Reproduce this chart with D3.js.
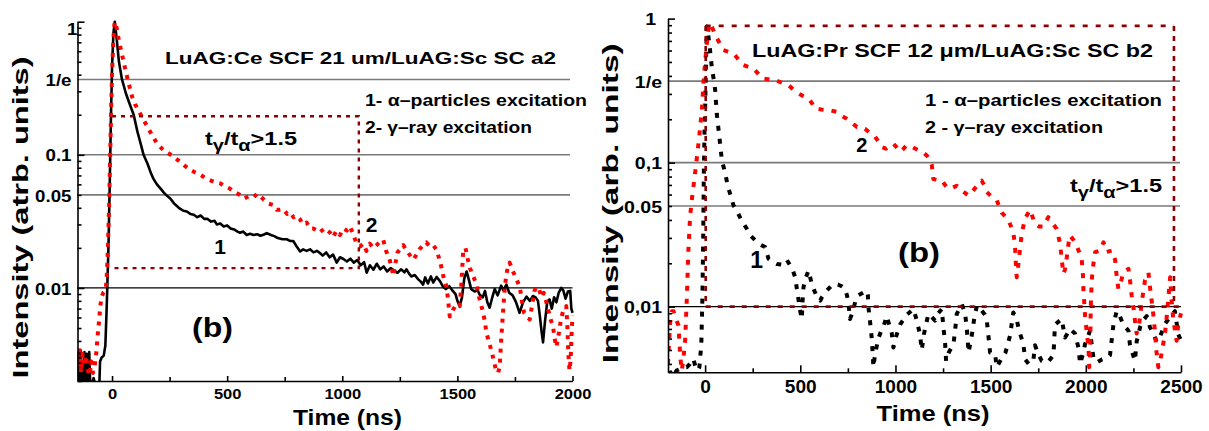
<!DOCTYPE html>
<html>
<head>
<meta charset="utf-8">
<script src="https://cdn.jsdelivr.net/npm/d3@7"></script>
<style>
  body { margin: 0; background: #fff; }
  svg { display: block; font-family: "Liberation Sans", Arial, Helvetica, sans-serif; font-weight: bold; }
</style>
</head>
<body>
<svg id="chart" width="1209" height="431"></svg>
<script>
// ---------- LuAG:Ce SCF / LuAG:Sc SC (panel a2) : [time ns, normalised intensity] ----------
const ceAlpha = [
  [-150,0.0019],[-146,0.0033],[-141,0.0018],[-136,0.0034],[-131,0.0019],[-125,0.0019],[-120,0.0033],
  [-115,0.0018],[-110,0.0032],[-104,0.0019],[-99,0.0033],[-94,0.0017],[-88,0.0019],[-80,0.0021],
  [-70,0.0018],[-62,0.0017],[-55,0.0019],[-52,0.0028],[-45,0.0030],[-36,0.0031],[-29,0.0037],
  [-24,0.0065],[-20,0.0110],[-15,0.022],[-10,0.06],[-5,0.18],[0,0.45],[6,0.82],[12,1.0],
  [20,0.75],[30,0.5],[43,0.37],[60,0.29],[75,0.245],[94,0.2],[110,0.15],[125,0.12],[137,0.1],
  [155,0.085],[170,0.072],[180,0.066],[195,0.060],[210,0.056],[225,0.052],[240,0.049],[253,0.047],
  [270,0.043],[290,0.040],[310,0.038],[325,0.0375],[340,0.036],[355,0.0355],[370,0.034],[385,0.035],
  [400,0.033],[415,0.033],[430,0.0315],[445,0.032],[455,0.030],[470,0.0305],[485,0.029],[500,0.0295],
  [515,0.028],[530,0.0275],[545,0.0265],[556,0.026],[570,0.0265],[585,0.025],[600,0.0255],[614,0.025],
  [630,0.0253],[645,0.0247],[660,0.0252],[672,0.0258],[690,0.025],[705,0.0245],[720,0.0237],[740,0.0232],
  [759,0.0232],[775,0.0225],[787,0.0225],[802,0.0205],[817,0.0188],[830,0.0195],[845,0.019],[860,0.0195],
  [875,0.0185],[890,0.019],[903,0.0183],[915,0.0175],[930,0.0185],[945,0.017],[960,0.0178],[976,0.0155],
  [990,0.017],[1005,0.0165],[1020,0.0158],[1035,0.0166],[1050,0.0155],[1065,0.0162],[1080,0.0148],
  [1095,0.0156],[1106,0.013],[1120,0.0148],[1135,0.0137],[1150,0.0152],[1165,0.0138],[1180,0.0145],
  [1195,0.0133],[1210,0.0141],[1225,0.0135],[1240,0.0130],[1255,0.0138],[1270,0.0131],[1279,0.0138],
  [1290,0.0128],[1300,0.0122],[1315,0.0125],[1330,0.0116],[1340,0.0112],[1351,0.0106],[1360,0.012],
  [1372,0.0108],[1385,0.0122],[1395,0.011],[1410,0.0121],[1425,0.0112],[1438,0.0102],[1450,0.0098],
  [1465,0.0103],[1480,0.0095],[1492,0.0090],[1500,0.0080],[1510,0.0073],[1520,0.0085],[1530,0.0118],
  [1540,0.0133],[1550,0.0115],[1560,0.0098],[1575,0.0094],[1588,0.0096],[1597,0.0089],[1610,0.0085],
  [1620,0.0095],[1630,0.0078],[1640,0.0071],[1650,0.0083],[1662,0.0098],[1675,0.0088],[1690,0.0104],
  [1700,0.0096],[1713,0.0106],[1725,0.0092],[1740,0.0088],[1755,0.0078],[1770,0.0065],[1785,0.0078],
  [1800,0.0086],[1815,0.0080],[1828,0.0087],[1840,0.0085],[1850,0.0080],[1858,0.0062],[1865,0.0048],
  [1872,0.0039],[1880,0.0055],[1890,0.0078],[1900,0.0082],[1910,0.0070],[1920,0.0085],[1930,0.0078],
  [1940,0.0092],[1951,0.0100],[1960,0.0096],[1970,0.0083],[1980,0.0094],[1990,0.0095],[1995,0.0070],
  [2000,0.0065]
];
const ceGamma = [
  [-150,0.0032],[-145,0.0025],[-140,0.0034],[-135,0.0023],[-128,0.0032],[-120,0.0026],[-113,0.0031],
  [-105,0.0024],[-98,0.0022],[-90,0.0028],[-83,0.0023],[-75,0.0026],[-68,0.0033],[-62,0.0045],
  [-57,0.0055],[-52,0.007],[-46,0.0085],[-38,0.0092],[-30,0.0095],[-24,0.011],[-18,0.02],[-13,0.04],
  [-8,0.1],[-4,0.22],[0,0.4],[5,0.7],[10,0.95],[14,1.0],
  [20,0.9],[30,0.72],[45,0.55],[60,0.42],[75,0.33],[87,0.274],[100,0.24],[115,0.215],[137,0.183],
  [160,0.155],[180,0.135],[195,0.122],[215,0.112],[240,0.104],[267,0.097],[290,0.09],[315,0.083],
  [340,0.077],[360,0.074],[383,0.071],[405,0.067],[430,0.064],[450,0.062],[470,0.061],[490,0.058],
  [510,0.056],[530,0.053],[556,0.050],[575,0.047],[595,0.049],[615,0.048],[630,0.051],[643,0.049],
  [660,0.046],[680,0.043],[700,0.042],[715,0.0387],[730,0.0387],[745,0.039],[760,0.036],[775,0.037],
  [788,0.034],[800,0.035],[815,0.033],[830,0.030],[845,0.031],[860,0.028],[874,0.028],[890,0.027],
  [905,0.028],[920,0.026],[935,0.027],[947,0.026],[960,0.024],[975,0.027],[990,0.025],[1005,0.028],
  [1020,0.027],[1033,0.029],[1045,0.026],[1060,0.022],[1077,0.0205],[1090,0.0215],[1105,0.019],
  [1120,0.0215],[1135,0.0199],[1150,0.021],[1165,0.0225],[1178,0.023],[1190,0.019],[1205,0.0165],
  [1215,0.014],[1222,0.0123],[1230,0.015],[1240,0.0185],[1250,0.0194],[1265,0.021],[1280,0.019],
  [1295,0.0175],[1308,0.0163],[1320,0.0175],[1335,0.0195],[1351,0.021],[1365,0.022],[1380,0.0205],
  [1395,0.021],[1409,0.0194],[1420,0.0168],[1430,0.0145],[1440,0.012],[1453,0.0102],[1460,0.008],
  [1467,0.0061],[1480,0.0068],[1495,0.0075],[1510,0.0073],[1518,0.011],[1525,0.0188],[1535,0.020],
  [1545,0.0165],[1555,0.014],[1568,0.0123],[1580,0.011],[1590,0.0092],[1600,0.0078],[1612,0.0065],
  [1620,0.0055],[1626,0.0046],[1640,0.0038],[1655,0.003],[1668,0.0024],[1677,0.0023],[1684,0.0026],
  [1690,0.004],[1698,0.0065],[1705,0.0095],[1712,0.0125],[1720,0.0145],[1727,0.0155],[1740,0.0135],
  [1755,0.0118],[1771,0.0102],[1780,0.008],[1790,0.0065],[1800,0.0062],[1814,0.0058],[1825,0.0075],
  [1835,0.0095],[1843,0.0102],[1855,0.0098],[1865,0.0085],[1875,0.0092],[1885,0.008],[1895,0.0068],
  [1905,0.0058],[1915,0.0052],[1922,0.0042],[1930,0.0036],[1940,0.0045],[1950,0.0058],[1960,0.0068],
  [1973,0.0073],[1978,0.005],[1982,0.0032],[1987,0.0024],[1992,0.0029],[1996,0.0045],[2000,0.0062]
];
// t_gamma/t_alpha window: [start, end] ns and [upper, lower] intensity
const ceBoxTimes = [0, 1072];
const ceBoxLevels = [0.195, 0.0141];

// ---------- LuAG:Pr SCF / LuAG:Sc SC (panel b2) ----------
const prAlpha = [
  [-195,0.0033],[-180,0.0035],[-165,0.0033],[-150,0.0036],[-131,0.0037],[-115,0.0038],[-96,0.0038],
  [-80,0.004],[-70,0.0043],[-61,0.0043],[-50,0.0038],[-40,0.0036],[-30,0.0038],[-20,0.0055],
  [-14,0.012],[-10,0.03],[-7,0.08],[-3,0.17],[0,0.231],[4,0.45],[9,0.88],
  [15,0.8],[25,0.62],[35,0.46],[45,0.38],[53,0.318],[61,0.219],[75,0.15],[88,0.104],[100,0.09],
  [110,0.079],[120,0.068],[131,0.061],[149,0.0505],[166,0.0466],[190,0.04],[219,0.0347],[240,0.031],
  [263,0.0289],[290,0.027],[315,0.0259],[333,0.0215],[355,0.0205],[377,0.0198],[410,0.0195],[430,0.021],
  [446,0.0194],[460,0.018],[473,0.016],[485,0.0125],[499,0.0094],[508,0.0082],[512,0.011],[517,0.0137],
  [530,0.016],[543,0.0178],[552,0.016],[560,0.0144],[575,0.0128],[590,0.0115],[605,0.011],[613,0.0116],
  [625,0.0122],[639,0.0129],[660,0.0138],[683,0.0144],[700,0.0142],[720,0.0138],[735,0.0133],[745,0.012],
  [753,0.0107],[761,0.0082],[770,0.0088],[779,0.0096],[790,0.011],[805,0.012],[830,0.0125],[849,0.0129],
  [855,0.012],[858,0.0099],[866,0.008],[875,0.0061],[880,0.0048],[884,0.0038],[893,0.0047],[910,0.006],
  [925,0.0068],[936,0.0072],[954,0.0086],[967,0.0075],[980,0.0066],[989,0.0052],[1000,0.006],
  [1024,0.0075],[1060,0.0088],[1094,0.0096],[1110,0.0082],[1129,0.0064],[1138,0.005],[1150,0.0065],
  [1173,0.0089],[1190,0.0085],[1208,0.008],[1225,0.009],[1243,0.0096],[1252,0.0072],[1261,0.0055],
  [1266,0.0042],[1280,0.0048],[1305,0.0055],[1314,0.007],[1322,0.0089],[1349,0.0104],[1366,0.0089],
  [1375,0.007],[1384,0.0048],[1400,0.0062],[1415,0.0085],[1428,0.0102],[1450,0.0095],[1470,0.0088],
  [1480,0.008],[1488,0.0063],[1497,0.0048],[1523,0.0047],[1532,0.0038],[1555,0.0043],[1578,0.0048],
  [1602,0.0063],[1619,0.0091],[1635,0.0083],[1650,0.0068],[1672,0.0055],[1681,0.0043],[1700,0.004],
  [1724,0.0042],[1733,0.0054],[1750,0.0047],[1768,0.0042],[1800,0.0041],[1830,0.0046],[1838,0.0075],
  [1873,0.0082],[1891,0.0061],[1917,0.007],[1943,0.0065],[1961,0.0052],[1970,0.004],[1985,0.0047],
  [1996,0.0055],[2022,0.0068],[2040,0.0044],[2057,0.0041],[2085,0.0043],[2110,0.0044],[2127,0.0046],
  [2145,0.0075],[2162,0.0093],[2180,0.0085],[2197,0.0075],[2224,0.0068],[2232,0.0054],[2258,0.0042],
  [2267,0.0057],[2285,0.0072],[2300,0.008],[2320,0.0086],[2337,0.0072],[2355,0.0065],[2372,0.0057],
  [2390,0.0062],[2416,0.0076],[2443,0.0085],[2468,0.0093],[2486,0.0064],[2500,0.0058]
];
const prGamma = [
  [-195,0.004],[-185,0.0075],[-175,0.0093],[-166,0.0093],[-155,0.0083],[-140,0.0074],[-131,0.0046],
  [-123,0.0036],[-115,0.0042],[-105,0.0058],[-100,0.0085],[-96,0.0116],[-88,0.0245],[-79,0.042],
  [-70,0.055],[-53,0.084],[-35,0.135],[-17,0.231],[-9,0.355],[0,0.5],[9,0.67],[18,0.85],[26,0.93],
  [40,0.85],[53,0.77],[75,0.68],[96,0.605],[120,0.59],[149,0.573],[175,0.52],[201,0.476],[230,0.46],
  [254,0.45],[275,0.42],[298,0.385],[330,0.38],[368,0.374],[400,0.36],[438,0.345],[465,0.32],[490,0.302],
  [515,0.29],[543,0.28],[560,0.26],[578,0.237],[610,0.234],[640,0.232],[656,0.231],[692,0.225],[720,0.21],
  [744,0.202],[770,0.19],[797,0.177],[820,0.175],[840,0.172],[868,0.16],[893,0.151],[910,0.14],[928,0.128],
  [950,0.125],[970,0.13],[989,0.135],[1006,0.128],[1024,0.119],[1040,0.124],[1059,0.132],[1090,0.128],
  [1120,0.122],[1145,0.118],[1164,0.112],[1180,0.105],[1191,0.096],[1199,0.077],[1220,0.076],[1243,0.0755],
  [1260,0.07],[1278,0.066],[1300,0.067],[1322,0.069],[1350,0.064],[1383,0.059],[1405,0.063],[1427,0.069],
  [1440,0.073],[1453,0.075],[1465,0.07],[1480,0.0625],[1505,0.058],[1532,0.0548],[1558,0.045],[1593,0.04],
  [1619,0.033],[1628,0.0265],[1632,0.0204],[1637,0.016],[1641,0.0175],[1646,0.0199],[1663,0.032],
  [1681,0.041],[1707,0.047],[1720,0.042],[1733,0.0376],[1755,0.036],[1777,0.036],[1790,0.039],[1803,0.0418],
  [1825,0.038],[1847,0.0347],[1865,0.0273],[1873,0.0216],[1882,0.0169],[1890,0.018],[1900,0.022],
  [1910,0.028],[1917,0.0312],[1935,0.029],[1952,0.0265],[1978,0.0216],[1985,0.0165],[1987,0.0133],
  [1991,0.011],[1996,0.0087],[2005,0.0066],[2014,0.0052],[2018,0.0038],[2022,0.0045],[2026,0.01],
  [2031,0.0153],[2040,0.0199],[2049,0.0239],[2075,0.0245],[2093,0.028],[2110,0.024],[2136,0.0245],
  [2154,0.0211],[2162,0.0163],[2171,0.0133],[2185,0.015],[2197,0.0172],[2224,0.0183],[2232,0.0153],
  [2241,0.0119],[2250,0.0099],[2258,0.008],[2267,0.0065],[2280,0.0075],[2295,0.011],[2311,0.0153],
  [2329,0.0172],[2337,0.0137],[2346,0.011],[2355,0.0087],[2364,0.0066],[2370,0.005],[2381,0.0038],
  [2395,0.0045],[2416,0.0065],[2425,0.0085],[2434,0.0116],[2443,0.016],[2451,0.011],[2460,0.008],
  [2477,0.0058],[2486,0.0076],[2500,0.009]
];
const prBoxTimes = [3, 2463, 2500];
const prBoxLevels = [0.89, 0.01];

// ---------- axis ticks and labels ----------
const ceXTicks = [0, 500, 1000, 1500, 2000];
const ceXMinor = [-125, 250, 750, 1250, 1750];
const prXTicks = [0, 500, 1000, 1500, 2000, 2500];
const prXMinor = [250, 750, 1250, 1750, 2250];
const yMajor = [1, 0.1, 0.01];
const yLabelValues = [1, 1 / Math.E, 0.1, 0.05, 0.01];
const ceYLabels = ["1", "1/e", "0.1", "0.05", "0.01"];
const prYLabels = ["1", "1/e", "0,1", "0.05", "0,01"];
const gridValues = [1 / Math.E, 0.1, 0.05, 0.01];

const svg = d3.select("#chart");
const defs = svg.append("defs");
const DARK_RED = "#8b0000";

// stretch a text element horizontally to the given width
function fitWidth(sel, w) {
  sel.attr("textLength", w).attr("lengthAdjust", "spacingAndGlyphs");
}
function stretchBy(sel, f) {
  sel.each(function () {
    const len = this.getComputedTextLength();
    d3.select(this).attr("textLength", len * f).attr("lengthAdjust", "spacingAndGlyphs");
  });
}
function addText(g, str, x, y, size, width, anchor) {
  const t = g.append("text").attr("x", x).attr("y", y).attr("font-size", size)
    .attr("text-anchor", anchor || "start").attr("fill", "#000").text(str);
  if (width) fitWidth(t, width);
  return t;
}
// t_gamma / t_alpha > 1.5 with subscripts
function ratioLabel(g, x0, baseline, size, width) {
  const t = g.append("text").attr("x", x0).attr("y", baseline).attr("font-size", size).attr("fill", "#000");
  t.append("tspan").text("t");
  t.append("tspan").attr("dy", size * 0.32).attr("font-size", size * 0.85).text("γ");
  t.append("tspan").attr("dy", -size * 0.32).text("/t");
  t.append("tspan").attr("dy", size * 0.32).attr("font-size", size * 0.85).text("α");
  t.append("tspan").attr("dy", -size * 0.32).text(">1.5");
  const w = t.node().getComputedTextLength();
  t.attr("transform", `translate(${x0},0) scale(${width / w},1) translate(${-x0},0)`);
}

function drawPanel(p) {
  const x = d3.scaleLinear().domain(p.xDomain).range(p.xRange);
  const y = d3.scaleLog().domain(p.yDomain).range(p.yRange);
  const g = svg.append("g");
  const [x0, x1] = p.xRange;
  const [yb, yt] = p.yRange;

  defs.append("clipPath").attr("id", p.id + "-clip").append("rect")
    .attr("x", x0).attr("y", yt - 10).attr("width", x1 - x0 + 3).attr("height", yb - yt + 10);

  // horizontal reference lines
  g.append("g").selectAll("line").data(gridValues).join("line")
    .attr("x1", x0).attr("x2", d => d === 0.01 ? x1 : p.gridEnd)
    .attr("y1", d => y(d)).attr("y2", d => y(d))
    .attr("stroke", d => d === 0.01 ? "#000" : "#7a7a7a")
    .attr("stroke-width", d => d === 0.01 ? 1.2 : 1.6);

  const line = d3.line().x(d => x(d[0])).y(d => y(d[1]));
  const curves = g.append("g").attr("clip-path", `url(#${p.id}-clip)`);
  p.series.forEach(s => {
    curves.append("path").datum(s.data).attr("d", line)
      .attr("fill", "none").attr("stroke", s.color).attr("stroke-width", s.width)
      .attr("stroke-dasharray", s.dash || null)
      .attr("stroke-linejoin", "round");
  });

  // dashed window box
  p.box(g, x, y);

  // axes: left
  const minorY = [];
  [0.001, 0.01, 0.1].forEach(b => { for (let k = 2; k <= 9; k++) { const v = k * b; if (v >= p.yDomain[0] && v <= 1) minorY.push(v); } });
  const ax = g.append("g").attr("transform", `translate(${x0},0)`);
  ax.call(d3.axisLeft(y).tickValues(yMajor).tickSize(-p.yMajorLen).tickSizeOuter(0).tickFormat(""));
  ax.append("g").call(d3.axisLeft(y).tickValues(minorY).tickSize(-p.yMinorLen).tickSizeOuter(0).tickFormat(""))
    .select(".domain").remove();
  g.selectAll(".domain, .tick line").attr("stroke", "#000").attr("stroke-width", 1.6);

  const yl = g.append("g").attr("transform", `translate(${x0},0)`)
    .call(d3.axisLeft(y).tickValues(yLabelValues).tickFormat((d, i) => p.yLabels[i]).tickSize(0).tickPadding(p.yPad));
  yl.attr("font-family", null).attr("font-size", null);
  yl.select(".domain").remove();
  yl.selectAll("text").attr("font-size", p.yFont).attr("fill", "#000").attr("dy", "0.36em");
  yl.selectAll(".tick").filter(d => d === 1).select("text")
    .attr("x", p.oneLabel[0]).attr("dy", p.oneLabel[1]);
  stretchBy(yl.selectAll("text"), p.yStretch);

  // axes: bottom
  const bx = g.append("g").attr("transform", `translate(0,${yb})`);
  bx.call(d3.axisBottom(x).tickValues(p.xTicks).tickSize(-p.xMajorLen).tickSizeOuter(0).tickPadding(p.xPad)
    .tickFormat(d => String(d)));
  bx.append("g").call(d3.axisBottom(x).tickValues(p.xMinor.filter(v => v >= p.xDomain[0])).tickSize(-p.xMinorLen).tickSizeOuter(0).tickFormat(""))
    .select(".domain").remove();
  bx.attr("font-family", null).attr("font-size", null);
  bx.selectAll(".domain, .tick line").attr("stroke", "#000").attr("stroke-width", 1.6);
  bx.selectAll("text").attr("font-size", p.xFont).attr("fill", "#000").attr("dy", "0.71em");
  stretchBy(bx.selectAll("text"), p.xStretch);

  p.annotate(g, x, y);
}

// ---------- panel a2 ----------
drawPanel({
  id: "ce",
  xDomain: [-150, 2000], xRange: [77.5, 572.5],
  yDomain: [0.002, 1], yRange: [381, 21.7],
  gridEnd: 570,
  series: [
    { data: ceAlpha, color: "#000", width: 2.6 },
    { data: ceGamma, color: "#ff0000", width: 4, dash: "4,6" }
  ],
  box: (g, x, y) => {
    g.append("path")
      .attr("d", `M${x(ceBoxTimes[0])},${y(ceBoxLevels[0])}H${x(ceBoxTimes[1])}V${y(ceBoxLevels[1])}H${x(ceBoxTimes[0])}`)
      .attr("fill", "none").attr("stroke", DARK_RED).attr("stroke-width", 2.4).attr("stroke-dasharray", "4,5");
  },
  yMajorLen: 7, yMinorLen: 4, xMajorLen: 5, xMinorLen: 4,
  yLabels: ceYLabels, yPad: 6, yFont: 17, yStretch: 1.1, oneLabel: [0, "0.75em"],
  xTicks: ceXTicks, xMinor: ceXMinor, xPad: 7, xFont: 15, xStretch: 1.1,
  annotate: (g) => {
    addText(g, "LuAG:Ce SCF 21 um/LuAG:Sc SC a2", 165, 64, 17, 391);
    addText(g, "1- α–particles excitation", 365, 105.5, 16, 222);
    addText(g, "2- γ–ray excitation", 365, 132.5, 16, 167);
    ratioLabel(g, 205, 145, 19, 92);
    addText(g, "2", 371.7, 232, 21, null, "middle");
    addText(g, "1", 220, 254, 21, null, "middle");
    addText(g, "(b)", 212.5, 337, 27, 41, "middle");
    addText(g, "Time (ns)", 347.5, 424.5, 22, 109, "middle");
    addText(g, "Intensity (atrb. units)", 0, 0, 22, 322, "middle")
      .attr("transform", "translate(27.5,217.5) rotate(-90)");
  }
});

// ---------- panel b2 ----------
drawPanel({
  id: "pr",
  xDomain: [-195, 2500], xRange: [668, 1181],
  yDomain: [0.0035, 1], yRange: [372.3, 18.6],
  gridEnd: 1180,
  series: [
    { data: prAlpha, color: "#000", width: 4, dash: "5,8" },
    { data: prGamma, color: "#ff0000", width: 4, dash: "5,8" }
  ],
  box: (g, x, y) => {
    const st = sel => sel.attr("fill", "none").attr("stroke", DARK_RED).attr("stroke-width", 2.6);
    st(g.append("path").attr("d", `M${x(prBoxTimes[0])},${y(prBoxLevels[0])}H${x(prBoxTimes[1])}`))
      .attr("stroke-dasharray", "5,8");
    st(g.append("path").attr("d", `M${x(prBoxTimes[1])},${y(prBoxLevels[0])}V${y(prBoxLevels[1])}`))
      .attr("stroke-dasharray", "5,5");
    st(g.append("path").attr("d", `M${x(prBoxTimes[0])},${y(prBoxLevels[0])}V${y(prBoxLevels[1])}`))
      .attr("stroke-dasharray", "5,5");
    st(g.append("path").attr("d", `M${x(prBoxTimes[0])},${y(prBoxLevels[1])}H${x(prBoxTimes[2])}`))
      .attr("stroke-dasharray", "5,7");
  },
  yMajorLen: 7, yMinorLen: 4, xMajorLen: 7, xMinorLen: 4,
  yLabels: prYLabels, yPad: 6, yFont: 17, yStretch: 1.15, oneLabel: [-12, "0.36em"],
  xTicks: prXTicks, xMinor: prXMinor, xPad: 8, xFont: 18, xStretch: 1.06,
  annotate: (g) => {
    addText(g, "LuAG:Pr SCF 12 μm/LuAG:Sc SC b2", 752, 56.5, 18, 401);
    addText(g, "1 - α–particles excitation", 925, 105.5, 16, 237);
    addText(g, "2 - γ–ray excitation", 925, 132.5, 16, 178);
    ratioLabel(g, 1070, 192, 19, 92);
    addText(g, "2", 861.7, 152, 20, null, "middle");
    addText(g, "1", 756.7, 268, 23, null, "middle");
    addText(g, "(b)", 919, 262, 27, 42, "middle");
    addText(g, "Time (ns)", 933, 421, 22, 113, "middle");
    addText(g, "Intensity (arb. units)", 0, 0, 22, 320, "middle")
      .attr("transform", "translate(617.5,203.3) rotate(-90)");
  }
});
</script>
</body>
</html>
